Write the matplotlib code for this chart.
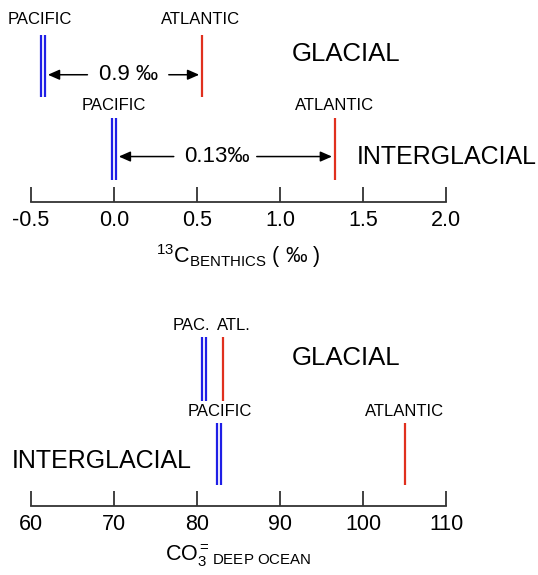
import matplotlib
matplotlib.use("Agg")
import matplotlib.pyplot as plt

plt.rcParams['font.family'] = ['Liberation Sans', 'DejaVu Sans']
plt.rcParams['mathtext.fontset'] = 'custom'
plt.rcParams['mathtext.rm'] = 'Liberation Sans'
plt.rcParams['mathtext.it'] = 'Liberation Sans'

# d13C benthics (permil)
c13_ticks = [-0.5, 0.0, 0.5, 1.0, 1.5, 2.0]
c13_tick_labels = ["-0.5", "0.0", "0.5", "1.0", "1.5", "2.0"]
c13_glacial_pacific = [-0.44, -0.415]
c13_glacial_atlantic = [0.53]
c13_inter_pacific = [-0.01, 0.012]
c13_inter_atlantic = [1.33]
c13_glacial_diff = "0.9 ‰"
c13_inter_diff = "0.13‰"

# CO3= deep ocean
co3_ticks = [60, 70, 80, 90, 100, 110]
co3_tick_labels = ["60", "70", "80", "90", "100", "110"]
co3_glacial_pacific = [80.6, 81.1]
co3_glacial_atlantic = [83.1]
co3_inter_pacific = [82.4, 82.9]
co3_inter_atlantic = [105.0]

blue = '#1f1fe6'
red = '#e0301e'

fig = plt.figure(figsize=(5.38, 5.75), dpi=100)


def setup_axis(ax, ticks, labels):
    ax.set_xlim(ticks[0], ticks[-1])
    ax.set_ylim(0, 1)
    for s in ['top', 'left', 'right']:
        ax.spines[s].set_visible(False)
    ax.spines['bottom'].set_color('#333333')
    ax.spines['bottom'].set_linewidth(1.3)
    ax.set_yticks([])
    ax.set_xticks(ticks)
    ax.set_xticklabels(labels)
    ax.tick_params(axis='x', direction='in', length=11, width=1.3,
                   color='#333333', labelsize=15.5, pad=6)
    ax.patch.set_alpha(0)


def vlines(ax, xs, y0, y1, color):
    for x in xs:
        ax.plot([x, x], [y0, y1], color=color, lw=1.6, solid_capstyle='butt')


def arrows(ax, x_left, x_right, xc, half_gap, y, label):
    ap = dict(arrowstyle='-|>,head_length=0.5,head_width=0.22', color='black',
              lw=1.1, mutation_scale=14, shrinkA=0, shrinkB=2)
    ax.annotate('', xy=(x_left, y), xytext=(xc - half_gap[0], y), arrowprops=ap)
    ax.annotate('', xy=(x_right, y), xytext=(xc + half_gap[1], y), arrowprops=ap)
    ax.text(xc, y, label, ha='center', va='center', fontsize=16)


# ---------------- top panel ----------------
ax1 = fig.add_axes([31 / 538, 0.6487, 415 / 538, 0.3513])
setup_axis(ax1, c13_ticks, c13_tick_labels)

vlines(ax1, c13_glacial_pacific, 0.52, 0.827, blue)
vlines(ax1, c13_glacial_atlantic, 0.52, 0.827, red)
vlines(ax1, c13_inter_pacific, 0.109, 0.416, blue)
vlines(ax1, c13_inter_atlantic, 0.109, 0.416, red)

ax1.text(sum(c13_glacial_pacific) / 2 - 0.02, 0.905, "PACIFIC", ha='center', va='center', fontsize=12)
ax1.text(c13_glacial_atlantic[0] - 0.01, 0.905, "ATLANTIC", ha='center', va='center', fontsize=12)
ax1.text(1.07, 0.735, "GLACIAL", ha='left', va='center', fontsize=18.5)
ax1.text(sum(c13_inter_pacific) / 2, 0.48, "PACIFIC", ha='center', va='center', fontsize=12)
ax1.text(c13_inter_atlantic[0], 0.48, "ATLANTIC", ha='center', va='center', fontsize=12)
ax1.text(1.46, 0.225, "INTERGLACIAL", ha='left', va='center', fontsize=18, clip_on=False)

arrows(ax1, c13_glacial_pacific[1], c13_glacial_atlantic[0], 0.09, (0.25, 0.24), 0.63, c13_glacial_diff)
arrows(ax1, c13_inter_pacific[1], c13_inter_atlantic[0], 0.62, (0.26, 0.24), 0.225, c13_inter_diff)

ax1.set_xlabel(r"$^{13}$C$_{\mathrm{BENTHICS}}$ ( ‰ )", fontsize=15.5, labelpad=8)

# ---------------- bottom panel ----------------
ax2 = fig.add_axes([31 / 538, 0.12, 415 / 538, 0.348])
setup_axis(ax2, co3_ticks, co3_tick_labels)

vlines(ax2, co3_glacial_pacific, 0.525, 0.845, blue)
vlines(ax2, co3_glacial_atlantic, 0.525, 0.845, red)
vlines(ax2, co3_inter_pacific, 0.105, 0.415, blue)
vlines(ax2, co3_inter_atlantic, 0.105, 0.415, red)

ax2.text(79.3, 0.9, "PAC.", ha='center', va='center', fontsize=12)
ax2.text(84.4, 0.9, "ATL.", ha='center', va='center', fontsize=12)
ax2.text(91.4, 0.74, "GLACIAL", ha='left', va='center', fontsize=18.5)
ax2.text(82.8, 0.47, "PACIFIC", ha='center', va='center', fontsize=12)
ax2.text(co3_inter_atlantic[0], 0.47, "ATLANTIC", ha='center', va='center', fontsize=12)
ax2.text(57.7, 0.225, "INTERGLACIAL", ha='left', va='center', fontsize=18, clip_on=False)

ax2.set_xlabel(r"CO$_3^{=}$$_{\mathrm{DEEP\ OCEAN}}$", fontsize=15.5, labelpad=5)

fig.savefig("out.png", dpi=100)
